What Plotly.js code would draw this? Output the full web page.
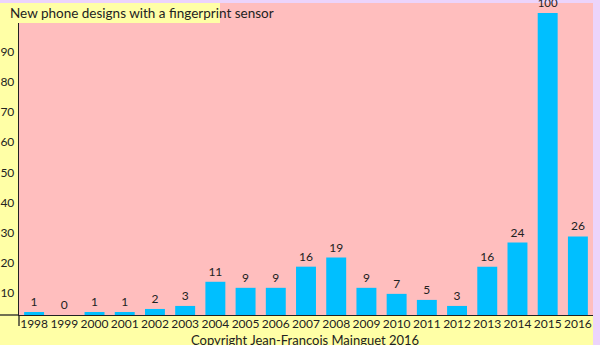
<!DOCTYPE html>
<html>
<head>
<meta charset="utf-8">
<script src="https://cdn.plot.ly/plotly-3.0.1.min.js"></script>
<style>html,body{margin:0;padding:0;background:#ffffa6;}#chart{width:600px;height:345px;}</style>
</head>
<body>
<div id="chart"></div>
<script>
var years = ['1998','1999','2000','2001','2002','2003','2004','2005','2006','2007','2008','2009','2010','2011','2012','2013','2014','2015','2016'];
var designs = [1,0,1,1,2,3,11,9,9,16,19,9,7,5,3,16,24,100,26];
var yTicks = [10,20,30,40,50,60,70,80,90];
var titleText = 'New phone designs with a fingerprint sensor';
var creditText = 'Copyright Jean-François Mainguet 2016<br>(http://biometrics.mainguet.org)';

var W = 600, H = 345, L = 19, R = 7, T = 3, B = 30;
var pw = W - L - R, ph = H - T - B;
function px(x){ return (x - L) / pw; }
function py(y){ return (H - B - y) / ph; }

var FONT = 'Lato, sans-serif';
var trace = {
  type: 'bar',
  x: years,
  y: designs,
  marker: {color: '#00bfff'},
  text: designs.map(String),
  textposition: 'outside',
  textfont: {family: FONT, size: 12, color: '#222'},
  cliponaxis: false,
  hoverinfo: 'none'
};

var layout = {
  width: W, height: H,
  margin: {l: L, r: R, t: T, b: B, pad: 0},
  paper_bgcolor: '#ffffa6',
  plot_bgcolor: '#ffbebe',
  bargap: 0.34,
  showlegend: false,
  font: {family: FONT, size: 12, color: '#222'},
  xaxis: {
    type: 'category', range: [-0.5, 18.5], fixedrange: true,
    showline: true, linecolor: '#222', linewidth: 1.3,
    ticks: '', showgrid: false, zeroline: false,
    tickfont: {family: FONT, size: 12, color: '#222'},
    ticklabelstandoff: -3
  },
  yaxis: {
    range: [0, 103.3], fixedrange: true,
    tickvals: yTicks, ticktext: yTicks.map(String),
    showline: true, linecolor: '#222', linewidth: 1.3,
    ticks: '', showgrid: false, zeroline: false,
    ticklabelposition: 'outside bottom',
    ticklabelstandoff: 1,
    tickfont: {family: FONT, size: 12, color: '#222'}
  },
  shapes: [
    {type: 'rect', xref: 'paper', yref: 'paper', x0: px(0), x1: px(220), y0: py(23), y1: py(3), fillcolor: '#ffffa6', line: {width: 0}, layer: 'above'},
    {type: 'rect', xref: 'paper', yref: 'paper', x0: px(0), x1: px(600), y0: py(3), y1: py(0), fillcolor: '#ecd4fb', line: {width: 0}, layer: 'below'},
    {type: 'rect', xref: 'paper', yref: 'paper', x0: px(593), x1: px(600), y0: py(345), y1: py(0), fillcolor: '#ecd4fb', line: {width: 0}, layer: 'below'},
    {type: 'line', xref: 'paper', yref: 'paper', x0: px(0), x1: 0, y0: 0, y1: 0, line: {color: '#222', width: 1.3}, layer: 'above'},
    {type: 'line', xref: 'paper', yref: 'paper', x0: 0, x1: 0, y0: 0, y1: py(326), line: {color: '#222', width: 1.3}, layer: 'above'}
  ],
  annotations: [
    {text: titleText, xref: 'paper', yref: 'paper', x: px(8), y: py(13), xanchor: 'left', yanchor: 'middle', showarrow: false, font: {family: FONT, size: 13.5, color: '#222'}},
    {text: creditText, xref: 'paper', yref: 'paper', x: px(305), y: py(330), xanchor: 'center', yanchor: 'top', showarrow: false, font: {family: FONT, size: 13, color: '#222'}}
  ]
};

Plotly.newPlot('chart', [trace], layout, {displayModeBar: false, staticPlot: true});
</script>
</body>
</html>
